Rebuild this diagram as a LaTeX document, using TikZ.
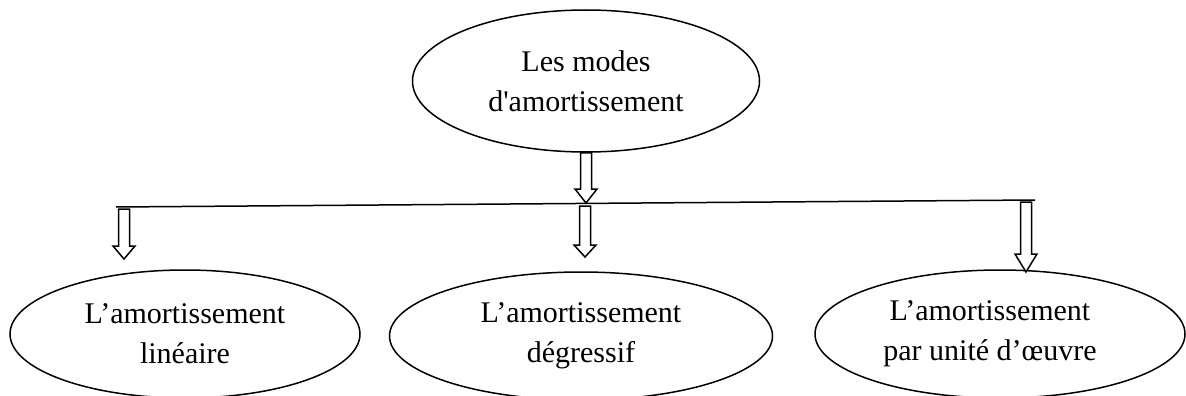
\documentclass[tikz,border=0pt]{standalone}
\usepackage{fontspec}
\setmainfont{Liberation Serif}
\usetikzlibrary{shapes.geometric,calc}

\tikzset{
  mode/.style={draw,ellipse,line width=1.5pt,inner sep=0pt,align=center,
    font=\fontsize{30}{40}\selectfont,minimum height=128pt},
  hollow/.style={draw,line width=1.5pt,fill=white,line join=miter},
}
% hollow block arrow: shaft top #2, tip #3, head length #1
\newcommand{\blockarrow}[3][14]{%
  \draw[hollow] ($(#2)+(-5.5,0)$) -- ($(#3)+(-5.5,-#1)$) -- ($(#3)+(-11,-#1)$) -- (#3)
    -- ($(#3)+(11,-#1)$) -- ($(#3)+(5.5,-#1)$) -- ($(#2)+(5.5,0)$) -- cycle;}

\begin{document}
\begin{tikzpicture}[x=1pt,y=-1pt]
\useasboundingbox (0,0) rectangle (1186,396);
\node[mode,minimum width=347pt,minimum height=142pt] (modes) at (586,81) {Les modes\\d\textquotesingle amortissement};
\node[mode,minimum width=350pt] (lin) at (185,334) {L’amortissement\\linéaire};
\node[mode,minimum width=383pt] (deg) at (581,336) {L’amortissement\\dégressif};
\node[mode,minimum width=370pt] (uo) at (1000,334) {L’amortissement\hspace*{20pt}\\par unité d’œuvre\hspace*{20pt}};
% barre
\coordinate (barL) at (116,207);\coordinate (barR) at (1035,200);
\draw[line width=1.5pt] (barL)--(barR);
\coordinate (t0) at (586,203);
\coordinate (s1) at (124,209);\coordinate (t1) at (124,259);
\coordinate (s2) at (585,206);\coordinate (t2) at (585,257);
\coordinate (s3) at (1026,202);\coordinate (t3) at (1026,272);
\blockarrow{modes.south}{t0}
\blockarrow[13]{s1}{t1}
\blockarrow[12]{s2}{t2}
\blockarrow[18]{s3}{t3}
\end{tikzpicture}
\end{document}
